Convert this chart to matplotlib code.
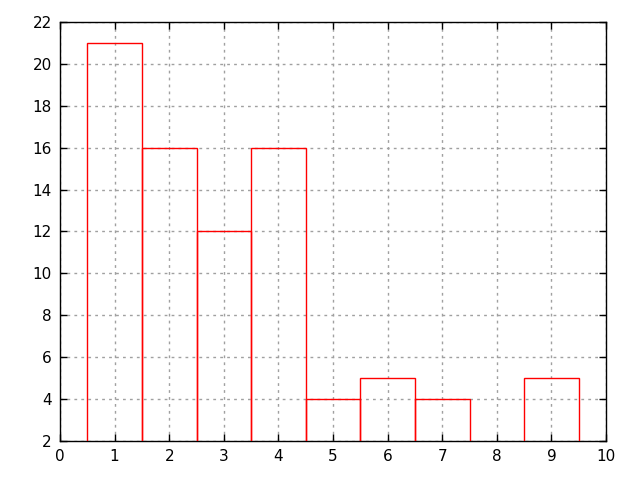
import matplotlib
matplotlib.use('Agg')
import matplotlib.pyplot as plt

# histogram values
x = [1, 2, 3, 4, 5, 6, 7, 9]
counts = [21, 16, 12, 16, 4, 5, 4, 5]

plt.rcParams['font.family'] = ['DejaVu Sans']
fig = plt.figure(figsize=(6.4, 4.8), dpi=100)
ax = fig.add_axes([60/640, 1 - 441/480, 546/640, 419/480])

ax.bar(x, counts, width=1.0, fill=False, edgecolor='red', linewidth=1.0, zorder=3)

ax.set_xlim(0, 10)
ax.set_ylim(2, 22)
ax.set_xticks(range(0, 11))
ax.set_yticks(range(2, 23, 2))
ax.grid(True, color='#a0a0a0', linestyle=(0, (2, 3)), linewidth=1.0, zorder=0)
ax.tick_params(direction='in', top=True, right=True, length=5, width=1,
               labelsize=11, colors='black', pad=6)
for s in ax.spines.values():
    s.set_linewidth(1.0)

fig.savefig('out.png', dpi=100)
